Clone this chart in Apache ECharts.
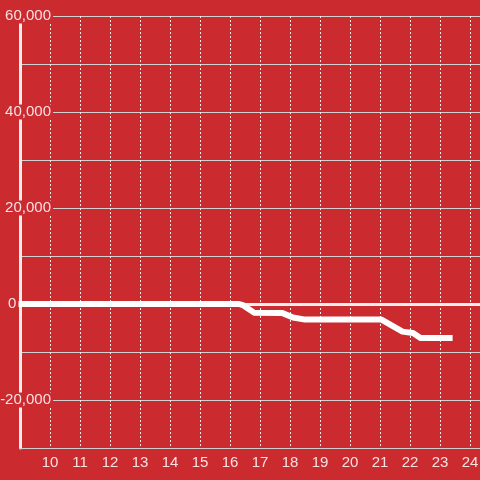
<!DOCTYPE html>
<html>
<head>
<meta charset="utf-8">
<script src="https://cdn.jsdelivr.net/npm/echarts@6/dist/echarts.min.js"></script>
<style>
html,body{margin:0;padding:0;background:#cb2a2f;}
#c{width:480px;height:480px;}
</style>
</head>
<body>
<div id="c"></div>
<script>
// Data
var hours = [8.95, 16.3, 16.45, 16.8, 17.75, 18.1, 18.5, 21.05, 21.75, 22.1, 22.35, 23.42];
var values = [0, 0, -300, -1800, -1900, -2800, -3250, -3250, -5750, -6050, -7100, -7100];
var xTicks = [10, 11, 12, 13, 14, 15, 16, 17, 18, 19, 20, 21, 22, 23, 24];
var yTicks = [-20000, 0, 20000, 40000, 60000];

var bg = '#cb2a2f';
var txt = 'rgba(255,255,255,0.86)';
var points = hours.map(function (h, i) { return [h, values[i]]; });

var chart = echarts.init(document.getElementById('c'));
chart.setOption({
  backgroundColor: bg,
  animation: false,
  grid: { left: 20, right: 0, top: 16, bottom: 32, containLabel: false, outerBoundsMode: 'none' },
  xAxis: {
    type: 'value', min: 9, max: 24.333, interval: 1,
    axisLine: { show: true, onZero: false, lineStyle: { color: '#cfcfcf', width: 1 } },
    axisTick: { show: false },
    splitLine: { show: true, lineStyle: { color: '#eeeeee', width: 1, type: [2, 2] } },
    axisLabel: {
      showMinLabel: false, showMaxLabel: false,
      color: txt, fontSize: 15, fontFamily: 'Liberation Sans, Arial, sans-serif', margin: 7,
      formatter: function (v) { return xTicks.indexOf(v) >= 0 ? String(v) : ''; }
    }
  },
  yAxis: {
    type: 'value', min: -30000, max: 60000, interval: 10000,
    axisLine: { show: true, onZero: false, lineStyle: { color: '#f0eded', width: 3 } },
    axisTick: { show: false },
    splitLine: { show: true, lineStyle: { color: '#d2d2d2', width: 1 } },
    axisLabel: {
      margin: -33, color: txt, fontSize: 15, fontFamily: 'Liberation Sans, Arial, sans-serif',
      formatter: function (v) {
        if (yTicks.indexOf(v) < 0) return '';
        if (v === 0) return '{z|0}';
        return '{a|' + v.toLocaleString('en-US') + '}';
      },
      rich: {
        a: { backgroundColor: bg, padding: [0, 2, 0, 2], color: txt, fontSize: 15, fontFamily: 'Liberation Sans, Arial, sans-serif' },
        z: { width: 45, align: 'left', color: txt, fontSize: 15, fontFamily: 'Liberation Sans, Arial, sans-serif' }
      }
    }
  },
  series: [
    {
      type: 'line', data: [], z: 1,
      markLine: {
        silent: true, symbol: ['none', 'none'], label: { show: false },
        lineStyle: { color: '#f2eeee', width: 3, type: 'solid' },
        data: [{ yAxis: 0 }]
      }
    },
    {
      type: 'line', data: points, showSymbol: false, z: 5,
      lineStyle: { color: '#ffffff', width: 6, join: 'round' }
    }
  ]
});
</script>
</body>
</html>
